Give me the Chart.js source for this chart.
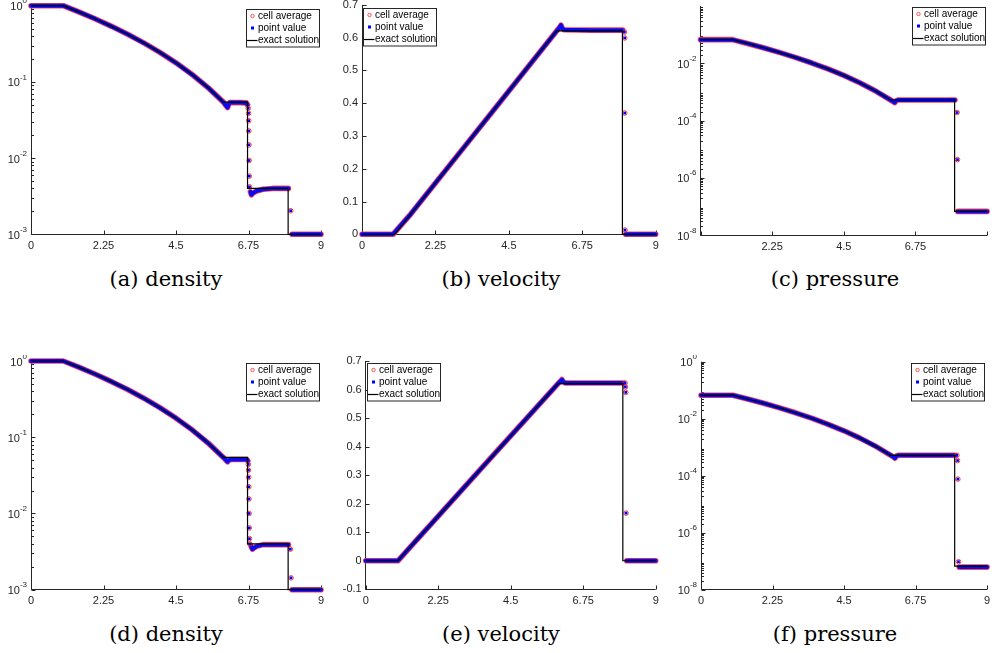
<!DOCTYPE html>
<html><head><meta charset="utf-8">
<script src="https://cdn.jsdelivr.net/npm/chart.js@4.4.0/dist/chart.umd.min.js"></script>
<style>
html,body{margin:0;padding:0;background:#fff;}
#fig{position:relative;width:992px;height:653px;overflow:hidden;background:#fff;}
.panel{position:absolute;}
.cap{position:absolute;font-family:"DejaVu Serif",serif;font-size:21px;line-height:24px;color:#000;white-space:nowrap;transform:translateX(-50%);}
</style></head><body>
<div id="fig"></div>
<script>
// ---------- tick labels / captions ----------
const xTicks = [0, 2.25, 4.5, 6.75, 9];
const xLabels = ['0', '2.25', '4.5', '6.75', '9'];
const velTicksTop = [0, 0.1, 0.2, 0.3, 0.4, 0.5, 0.6, 0.7];
const velLabelsTop = ['0', '0.1', '0.2', '0.3', '0.4', '0.5', '0.6', '0.7'];
const velTicksBot = [-0.1, 0, 0.1, 0.2, 0.3, 0.4, 0.5, 0.6, 0.7];
const velLabelsBot = ['-0.1', '0', '0.1', '0.2', '0.3', '0.4', '0.5', '0.6', '0.7'];
const rhoTicks = [1e-3, 1e-2, 1e-1, 1];
const presTicksTop = [1e-8, 1e-6, 1e-4, 1e-2];
const presTicksBot = [1e-8, 1e-6, 1e-4, 1e-2, 1];
const legendLabels = ['cell average', 'point value', 'exact solution'];
const captions = ['(a) density', '(b) velocity', '(c) pressure', '(d) density', '(e) velocity', '(f) pressure'];

// ---------- exact solution ----------
const exactX   = [0, 1, 1.5, 2, 2.5, 3, 3.5, 4, 4.5, 5, 5.5, 5.97, 6.72, 6.72, 7.98, 7.98, 9];
const exactRho = [1, 1, 0.824, 0.670, 0.536, 0.422, 0.325, 0.244, 0.178, 0.125, 0.0837, 0.0543, 0.0543, 0.0040, 0.0040, 0.001, 0.001];
const exactU   = [0, 0, 0.0625, 0.125, 0.1875, 0.25, 0.3125, 0.375, 0.4375, 0.5, 0.5625, 0.621, 0.621, 0.621, 0.621, 0, 0];
const exactP   = [0.0667, 0.0667, 0.0483, 0.0342, 0.0236, 0.0158, 0.0102, 0.00636, 0.00376, 0.00208, 0.00107, 0.00052, 0.00052, 0.00052, 0.00052, 6.67e-8, 6.67e-8];

// ---------- numerical solutions (dense band + isolated points) ----------
// (a) density, scheme 1
const aBandX = [0, 1, 1.5, 2, 2.5, 3, 3.5, 4, 4.5, 5, 5.5, 5.97, 6.05, 6.1, 6.13, 6.17, 6.5, 6.68, 6.72, 6.76, 6.81, 6.84, 6.9, 7.0, 7.2, 7.5, 7.99, 8.02, 8.1, 9];
const aBandY = [1, 1, 0.824, 0.670, 0.536, 0.422, 0.325, 0.244, 0.178, 0.125, 0.0837, 0.0543, 0.049, 0.046, 0.050, 0.0535, 0.0535, 0.053, 0.050, null, 0.0036, 0.0033, 0.0035, 0.0037, 0.0039, 0.0040, 0.0040, null, 0.001, 0.001];
const aDotX = [6.74, 6.75, 6.755, 6.76, 6.765, 6.77, 6.775, 6.78, 8.06];
const aDotY = [0.045, 0.0387, 0.031, 0.0227, 0.0149, 0.0093, 0.0058, 0.0042, 0.00204];
// (b) velocity, scheme 1
const bBandX = [0, 0.95, 1.5, 2, 3, 4, 5, 5.97, 6.05, 6.1, 6.14, 6.2, 7.0, 7.99, 8.03, 8.08, 9];
const bBandY = [0, 0, 0.0625, 0.125, 0.25, 0.375, 0.5, 0.621, 0.631, 0.638, 0.628, 0.624, 0.623, 0.623, null, 0, 0];
const bDotX = [8.04, 8.05, 8.05, 8.06];
const bDotY = [0.617, 0.599, 0.370, 0.013];
// (c) pressure, scheme 1
const cBandX = [0, 1, 1.5, 2, 2.5, 3, 3.5, 4, 4.5, 5, 5.5, 5.97, 6.05, 6.1, 6.14, 6.2, 7.0, 7.99, 8.03, 8.08, 9];
const cBandY = [0.0667, 0.0667, 0.0483, 0.0342, 0.0236, 0.0158, 0.0102, 0.00636, 0.00376, 0.00208, 0.00107, 0.00052, 0.00046, 0.00042, 0.00049, 0.00052, 0.00052, 0.00052, null, 6.67e-8, 6.67e-8];
const cDotX = [8.06, 8.07];
const cDotY = [1.9e-4, 4.3e-6];
// (d) density, scheme 2
const dBandX = [0, 1, 1.5, 2, 2.5, 3, 3.5, 4, 4.5, 5, 5.5, 5.97, 6.05, 6.1, 6.14, 6.2, 6.5, 6.7, 6.73, 6.76, 6.83, 6.87, 6.91, 7.0, 7.2, 7.5, 7.99, 8.02, 8.1, 9];
const dBandY = [1, 1, 0.824, 0.670, 0.536, 0.422, 0.325, 0.244, 0.178, 0.125, 0.0837, 0.0543, 0.050, 0.0477, 0.050, 0.051, 0.051, 0.051, 0.049, null, 0.0037, 0.0034, 0.0035, 0.0037, 0.0039, 0.0039, 0.0039, null, 0.001, 0.001];
const dDotX = [6.745, 6.75, 6.755, 6.76, 6.765, 6.77, 6.775, 6.78, 6.79, 8.05, 8.07];
const dDotY = [0.044, 0.037, 0.0298, 0.0224, 0.0155, 0.0100, 0.00646, 0.00467, 0.0040, 0.0034, 0.00143];
// (e) velocity, scheme 2
const eBandX = [0, 1, 1.5, 2, 3, 4, 5, 5.97, 6.05, 6.09, 6.13, 6.2, 7.0, 7.99, 8.04, 8.1, 9];
const eBandY = [0, 0, 0.0625, 0.125, 0.25, 0.375, 0.5, 0.621, 0.63, 0.635, 0.627, 0.623, 0.623, 0.623, null, 0, 0];
const eDotX = [8.05, 8.06, 8.07, 8.08];
const eDotY = [0.623, 0.609, 0.590, 0.167];
// (f) pressure, scheme 2
const fBandX = [0, 1, 1.5, 2, 2.5, 3, 3.5, 4, 4.5, 5, 5.5, 5.97, 6.05, 6.1, 6.14, 6.2, 7.0, 7.99, 8.03, 8.12, 9];
const fBandY = [0.0667, 0.0667, 0.0483, 0.0342, 0.0236, 0.0158, 0.0102, 0.00636, 0.00376, 0.00208, 0.00107, 0.00052, 0.00046, 0.00041, 0.00049, 0.00052, 0.00052, 0.00052, null, 6.2e-8, 6.2e-8];
const fDotX = [8.05, 8.07, 8.08, 8.1];
const fDotY = [0.00052, 3.4e-4, 7.6e-5, 9.6e-8];

// ---------- layout ----------
const FONT = '"Liberation Sans", Arial, Helvetica, sans-serif';
const AXC = '#262626';
const panels = [
  {left:0,   top:0,   w:330, h:260, yW:31,   padTop:5.7, padRight:9,   xH:25.7, log:true,  yMin:1e-3, yMax:1,   yTicks:rhoTicks,
   exY:exactRho, bX:aBandX, bY:aBandY, dX:aDotX, dY:aDotY, leg:{side:'right', dx:2, dy:3.6}, xl:true},
  {left:332, top:0,   w:330, h:260, yW:30,   padTop:1,   padRight:6.3, xH:25.7, log:false, yMin:0,    yMax:0.7, yTicks:velTicksTop, yLab:velLabelsTop,
   exY:exactU,   bX:bBandX, bY:bBandY, dX:bDotX, dY:bDotY, leg:{side:'left', dx:1.3, dy:3.3}, xl:true},
  {left:662, top:0,   w:330, h:260, yW:38.5, padTop:6,   padRight:1,   xH:25,   log:true,  yMin:1e-8, yMax:1,   yTicks:presTicksTop,
   exY:exactP,   bX:cBandX, bY:cBandY, dX:cDotX, dY:cDotY, leg:{side:'right', dx:2.3, dy:1.3}, xl:false},
  {left:0,   top:355, w:330, h:260, yW:31,   padTop:6,   padRight:9,   xH:25.3, log:true,  yMin:1e-3, yMax:1,   yTicks:rhoTicks,
   exY:exactRho, bX:dBandX, bY:dBandY, dX:dDotX, dY:dDotY, leg:{side:'right', dx:2, dy:2.3}, xl:true},
  {left:332, top:355, w:330, h:260, yW:33.7, padTop:6,   padRight:6.3, xH:25.7, log:false, yMin:-0.1, yMax:0.7, yTicks:velTicksBot, yLab:velLabelsBot,
   exY:exactU,   bX:eBandX, bY:eBandY, dX:eDotX, dY:eDotY, leg:{side:'left', dx:1, dy:2.3}, xl:true},
  {left:662, top:355, w:330, h:260, yW:39,   padTop:6.7, padRight:2,   xH:25.3, log:true,  yMin:1e-8, yMax:1,   yTicks:presTicksBot,
   exY:exactP,   bX:fBandX, bY:fBandY, dX:fDotX, dY:fDotY, leg:{side:'right', dx:3, dy:1.6}, xl:true}
];
const capPos = [[166,266.5],[501,266.5],[835,266.5],[166,622],[501,622],[835,622]];

const zip = (xs, ys) => xs.map((x, i) => ({x: x, y: ys[i]}));
function zeroPad(s){ s.paddingLeft = 0; s.paddingRight = 0; s.paddingTop = 0; s.paddingBottom = 0; }

// axes in MATLAB style: left & bottom lines, inward ticks, log minor ticks, 10^k labels
const matlabAxes = {
  id: 'matlabAxes',
  beforeDatasetsDraw(chart, args, o) {
    const {ctx, chartArea: a, scales: {x, y}} = chart;
    ctx.save();
    ctx.strokeStyle = AXC; ctx.lineWidth = 1;
    const lx = Math.floor(a.left) + 0.5, by = Math.floor(a.bottom) + 0.5;
    ctx.beginPath();
    ctx.moveTo(lx, a.top); ctx.lineTo(lx, by); ctx.lineTo(a.right, by);
    x.ticks.forEach(t => { const px = Math.round(x.getPixelForValue(t.value)) + 0.5; ctx.moveTo(px, by); ctx.lineTo(px, by - 4); });
    y.ticks.forEach(t => { const py = Math.round(y.getPixelForValue(t.value)) + 0.5; ctx.moveTo(lx, py); ctx.lineTo(lx + 4, py); });
    if (o.log) {
      const k0 = Math.floor(Math.log10(y.min)), k1 = Math.ceil(Math.log10(y.max));
      for (let k = k0; k < k1; k++) for (let j = 2; j <= 9; j++) {
        const v = j * Math.pow(10, k);
        if (v < y.min || v > y.max) continue;
        const py = Math.round(y.getPixelForValue(v)) + 0.5;
        ctx.moveTo(lx, py); ctx.lineTo(lx + 2.5, py);
      }
    }
    ctx.stroke();
    if (o.log) {
      ctx.fillStyle = AXC; ctx.textAlign = 'left'; ctx.textBaseline = 'middle';
      y.ticks.forEach(t => {
        const py = y.getPixelForValue(t.value);
        const e = String(Math.round(Math.log10(t.value)));
        ctx.font = '8px ' + FONT; const we = ctx.measureText(e).width;
        ctx.font = '11px ' + FONT; const wb = ctx.measureText('10').width;
        const right = a.left - 4;
        ctx.fillText('10', right - we - wb, py + 1.5);
        ctx.font = '8px ' + FONT;
        ctx.fillText(e, right - we, py - 4.5);
      });
    }
    ctx.restore();
  }
};

// boxed legend inside the axes
const boxLegend = {
  id: 'boxLegend',
  afterDatasetsDraw(chart, args, o) {
    const {ctx, chartArea: a} = chart;
    const w = 73, h = 37.5;
    const x0 = Math.round(o.side === 'left' ? a.left + o.dx : a.right - o.dx - w);
    const y0 = Math.round(a.top + o.dy);
    ctx.save();
    ctx.fillStyle = '#fff'; ctx.fillRect(x0, y0, w, h);
    ctx.strokeStyle = AXC; ctx.lineWidth = 1; ctx.strokeRect(x0 + 0.5, y0 + 0.5, w, h);
    const rows = [y0 + 7, y0 + 19, y0 + 31];
    ctx.strokeStyle = '#ff2a2a'; ctx.lineWidth = 0.8;
    ctx.beginPath(); ctx.arc(x0 + 6.5, rows[0], 1.7, 0, Math.PI * 2); ctx.stroke();
    ctx.fillStyle = '#0000ff'; ctx.fillRect(x0 + 5, rows[1] - 1.5, 3, 3);
    ctx.strokeStyle = '#000'; ctx.lineWidth = 1.2;
    ctx.beginPath(); ctx.moveTo(x0 + 1, rows[2] + 0.5); ctx.lineTo(x0 + 11.5, rows[2] + 0.5); ctx.stroke();
    ctx.fillStyle = '#000'; ctx.font = '10px ' + FONT; ctx.textBaseline = 'middle'; ctx.textAlign = 'left';
    legendLabels.forEach((s, i) => ctx.fillText(s, x0 + 12, rows[i] + 0.5));
    ctx.restore();
  }
};

const fig = document.getElementById('fig');
panels.forEach((p, idx) => {
  const div = document.createElement('div');
  div.className = 'panel';
  div.style.left = p.left + 'px'; div.style.top = p.top + 'px';
  div.style.width = p.w + 'px'; div.style.height = p.h + 'px';
  const cv = document.createElement('canvas');
  cv.width = p.w; cv.height = p.h;
  cv.style.width = p.w + 'px'; cv.style.height = p.h + 'px';
  div.appendChild(cv); fig.appendChild(div);

  const datasets = [
    {label: legendLabels[2], data: zip(exactX, p.exY), showLine: true, borderColor: '#000', borderWidth: 1.2, pointRadius: 0, order: 0, clip: false},
    {label: legendLabels[1], data: zip(p.dX, p.dY), showLine: false, pointStyle: 'rect', pointRadius: 1.9, backgroundColor: '#0000ff', borderColor: '#0000ff', borderWidth: 0, order: 1, clip: false},
    {label: legendLabels[0], data: zip(p.dX, p.dY), showLine: false, pointStyle: 'circle', pointRadius: 2.3, backgroundColor: 'rgba(255,255,255,0)', borderColor: '#ff2a2a', borderWidth: 0.9, order: 2, clip: false},
    {label: legendLabels[1], data: zip(p.bX, p.bY), showLine: true, borderColor: '#0a0af5', borderWidth: 4, borderCapStyle: 'round', borderJoinStyle: 'round', pointRadius: 0, order: 3, clip: false, spanGaps: false},
    {label: legendLabels[0], data: zip(p.bX, p.bY), showLine: true, borderColor: '#ff4545', borderWidth: 5.6, borderCapStyle: 'round', borderJoinStyle: 'round', pointRadius: 0, order: 4, clip: false, spanGaps: false}
  ];

  const yScale = p.log ? {
    type: 'logarithmic', min: p.yMin, max: p.yMax,
    afterBuildTicks: s => { s.ticks = p.yTicks.map(v => ({value: v})); },
    ticks: {display: false, autoSkip: false},
    afterFit: s => { s.width = p.yW; zeroPad(s); }
  } : {
    type: 'linear', min: p.yMin, max: p.yMax,
    afterBuildTicks: s => { s.ticks = p.yTicks.map(v => ({value: v})); },
    ticks: {autoSkip: false, padding: 4, color: AXC, font: {family: FONT, size: 11}, callback: (v, i) => p.yLab[i]},
    afterFit: s => { s.width = p.yW; zeroPad(s); }
  };
  yScale.grid = {display: false, drawTicks: false};
  yScale.border = {display: false};

  new Chart(cv.getContext('2d'), {
    type: 'scatter',
    data: {datasets: datasets},
    options: {
      responsive: false, animation: false, devicePixelRatio: 1, events: [],
      layout: {padding: {left: 0, top: p.padTop, right: p.padRight, bottom: 0}},
      scales: {
        x: {
          type: 'linear', min: 0, max: 9,
          afterBuildTicks: s => { s.ticks = xTicks.map(v => ({value: v})); },
          afterFit: s => { s.height = p.xH; zeroPad(s); },
          grid: {display: false, drawTicks: false}, border: {display: false},
          ticks: {autoSkip: false, maxRotation: 0, padding: 5, color: AXC, font: {family: FONT, size: 11},
                  callback: (v, i) => (p.xl || (i > 0 && i < xTicks.length - 1)) ? xLabels[i] : ''}
        },
        y: yScale
      },
      plugins: {legend: {display: false}, tooltip: {enabled: false},
                matlabAxes: {log: p.log}, boxLegend: p.leg}
    },
    plugins: [matlabAxes, boxLegend]
  });

  const cap = document.createElement('div');
  cap.className = 'cap';
  cap.textContent = captions[idx];
  cap.style.left = capPos[idx][0] + 'px'; cap.style.top = capPos[idx][1] + 'px';
  fig.appendChild(cap);
});
</script>
</body></html>
